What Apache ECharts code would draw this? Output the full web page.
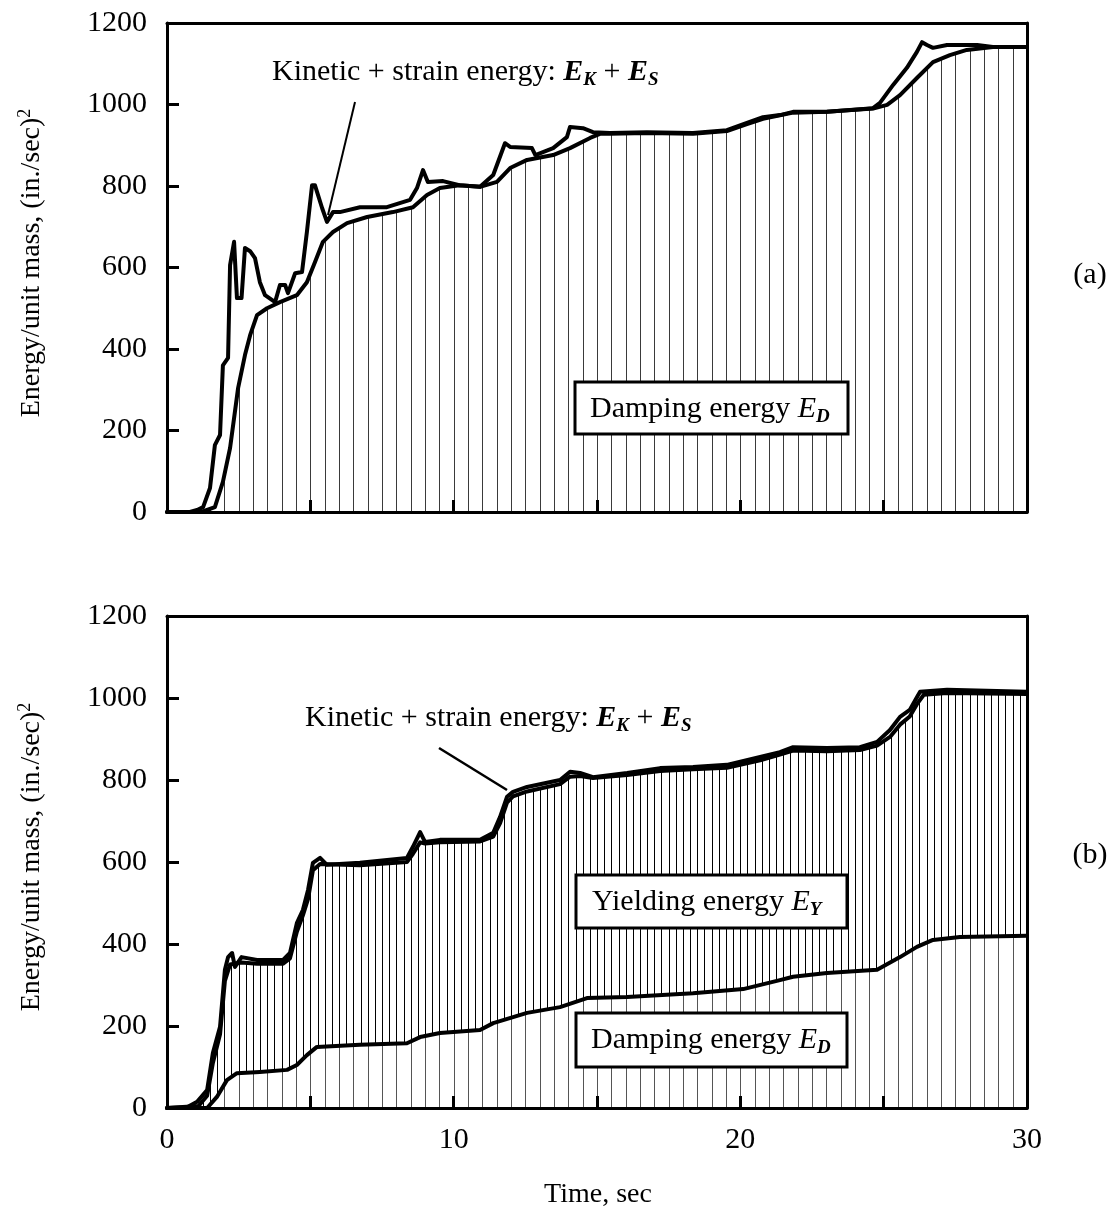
<!DOCTYPE html>
<html><head><meta charset="utf-8">
<script src="https://cdn.jsdelivr.net/npm/echarts@6/dist/echarts.min.js"></script>
<style>html,body{margin:0;padding:0;background:#fff}#c{width:1112px;height:1209px}</style>
</head><body><div id="c"></div>
<script>
// ---------- data ----------
// Panel (a): elastic system
const tA_EI = [0,0.8,1.05,1.26,1.5,1.67,1.85,1.95,2.13,2.2,2.34,2.44,2.6,2.72,2.9,3.07,3.24,3.42,3.77,3.94,4.12,4.22,4.47,4.71,4.88,5.06,5.16,5.41,5.58,5.79,6.03,6.73,7.67,8.48,8.72,8.93,9.1,9.63,10.2,10.92,11.38,11.79,11.97,12.73,12.85,13.47,13.95,14.06,14.51,14.86,15.45,16.74,18.35,19.53,20.23,20.79,21.38,21.84,23.02,24.63,24.87,25.33,25.81,26.16,26.34,26.51,26.72,27.21,27.66,28.26,28.81,30];
const eA_EI = [0,0,5,12,59,164,189,360,378,606,663,525,525,648,640,623,564,532,515,557,557,537,586,589,687,802,802,746,712,736,736,748,748,766,795,839,810,812,802,798,827,905,896,893,876,893,920,945,942,932,930,932,930,937,955,969,974,982,982,991,1004,1048,1090,1129,1153,1146,1139,1146,1146,1146,1141,1141];
const tA_ED = [0,1.2,1.67,1.95,2.2,2.48,2.72,2.9,3.14,3.49,3.94,4.53,4.88,5.16,5.44,5.79,6.28,6.98,7.88,8.58,9.07,9.52,10.2,10.92,11.51,11.97,12.56,13.47,14.06,14.76,15.1,15.45,16.74,18.35,19.53,20.23,20.79,21.84,23.02,24.63,25.12,25.57,26.16,26.72,27.31,27.9,28.81,30];
const eA_ED = [0,0,12,74,157,304,385,434,483,500,515,532,564,613,663,687,709,724,736,748,778,795,802,798,810,844,864,876,893,918,928,928,930,928,935,952,965,980,982,990,999,1023,1065,1104,1121,1134,1141,1141];

// Panel (b): inelastic system
const tB_EI = [0,0.7,1.05,1.4,1.6,1.85,2.02,2.13,2.27,2.37,2.6,3.14,4.05,4.29,4.53,4.74,4.92,5.09,5.34,5.58,6.73,8.37,8.58,8.83,9.0,9.52,10.92,11.38,11.62,11.86,12.07,12.56,13.71,14.06,14.41,14.86,16.05,17.2,18.35,19.53,20.69,21.38,21.84,23.02,24.17,24.77,25.22,25.57,25.91,26.16,26.27,27.21,30];
const eB_EI = [0,2,15,44,134,198,337,368,378,344,368,361,361,378,451,483,532,598,610,593,598,610,637,673,649,654,654,671,710,759,771,783,800,820,817,807,817,829,832,837,856,868,880,878,880,893,922,954,971,1002,1015,1020,1015];
const tB_EDY = [0,1.1,1.4,1.6,1.85,2.02,2.2,2.6,3.14,4.05,4.29,4.53,4.74,4.92,5.09,5.34,6.73,8.37,8.58,8.83,9.0,9.52,10.92,11.38,11.62,11.86,12.07,12.56,13.71,14.06,14.41,14.86,16.05,17.2,18.35,19.53,20.69,21.38,21.84,23.02,24.17,24.77,25.22,25.57,25.91,26.16,26.4,27.21,30];
const eB_EDY = [0,5,30,110,180,310,350,355,352,352,365,430,470,510,580,595,592,600,620,648,645,648,650,662,695,745,760,772,790,808,810,805,812,822,826,830,848,862,872,870,873,884,905,935,955,985,1008,1012,1010];
const tB_ED = [0,1.4,1.74,2.09,2.44,3.24,4.19,4.53,4.88,5.23,6.73,8.37,8.83,9.52,10.92,11.38,12.56,13.71,14.65,16.05,18.35,20.1,21.38,21.84,23.02,24.77,25.57,26.16,26.72,27.66,30];
const eB_ED = [0,0,27,68,85,88,93,105,129,149,154,158,173,183,190,207,232,246,268,271,280,290,312,320,329,337,368,393,410,417,420];

const yTicks = [0,200,400,600,800,1000,1200];
const xTicks = [0,5,10,15,20,25,30];

// ---------- layout ----------
const W = 1112, H = 1209;
const L = 167, R = 1027;
const gridA = {top: 23, height: 489};
const gridB = {top: 616, height: 492};
const FONT = 'Liberation Serif';
const FS = 30;

function pairs(t, e){ return t.map((v,i)=>[v, e[i]]); }

// vertical hatch texture, one line per `sec` seconds of the time axis
function hatch(sec, color, bg){
  const c = document.createElement('canvas');
  c.width = W; c.height = 4;
  const g = c.getContext('2d');
  if (bg){ g.fillStyle = bg; g.fillRect(0,0,W,4); }
  g.fillStyle = color;
  const step = (R - L) / 30 * sec;
  for (let x = L; x <= R + 1; x += step) g.fillRect(Math.round(x), 0, 1, 4);
  return {image: c, repeat: 'repeat'};
}

const chart = echarts.init(document.getElementById('c'), null, {renderer:'canvas', width:W, height:H});

function xAx(gi, bottomLabels){
  return [{
    gridIndex: gi, type:'value', min: xTicks[0], max: xTicks[xTicks.length-1], interval: 5, position:'bottom', z: 10,
    axisLine:{show:true, onZero:false, lineStyle:{color:'#000', width:3}},
    axisTick:{show:true, inside:true, length:12, lineStyle:{color:'#000', width:3}},
    axisLabel:{show: bottomLabels, margin: 17, fontFamily: FONT, fontSize: FS, color:'#000',
      formatter: v => (v % 10 === 0 ? String(v) : '')},
    splitLine:{show:false}
  },{
    gridIndex: gi, type:'value', min: 0, max: 30, position:'top', z: 10,
    axisLine:{show:true, onZero:false, lineStyle:{color:'#000', width:3}},
    axisTick:{show:false}, axisLabel:{show:false}, splitLine:{show:false}
  }];
}
function yAx(gi){
  return [{
    gridIndex: gi, type:'value', min: yTicks[0], max: yTicks[yTicks.length-1], interval: 200, position:'left', z: 10,
    axisLine:{show:true, onZero:false, lineStyle:{color:'#000', width:3}},
    axisTick:{show:true, inside:true, length:12, lineStyle:{color:'#000', width:3}},
    axisLabel:{show:true, margin: 20, fontFamily: FONT, fontSize: FS, color:'#000', formatter: v => String(v)},
    splitLine:{show:false}
  },{
    gridIndex: gi, type:'value', min: 0, max: 1200, position:'right', z: 10,
    axisLine:{show:true, onZero:false, lineStyle:{color:'#000', width:3}},
    axisTick:{show:false}, axisLabel:{show:false}, splitLine:{show:false}
  }];
}

function lineSeries(name, xi, yi, data, z, area){
  const s = {
    name, type:'line', xAxisIndex: xi, yAxisIndex: yi, data, z,
    showSymbol:false, symbol:'none', animation:false, silent:true,
    lineStyle:{color:'#000', width:4, cap:'round', join:'round'}
  };
  if (area) s.areaStyle = {color: area, opacity: 1, origin: 'start'};
  return s;
}

const mainText = {fontFamily: FONT, fontSize: FS, color:'#000'};
const italE = {fontFamily: FONT, fontSize: FS, fontStyle:'italic', fontWeight:'bold', color:'#000'};
const subS = {fontFamily: FONT, fontSize: 19, fontStyle:'italic', fontWeight:'bold', color:'#000', verticalAlign:'bottom', lineHeight: 20};
const rich = {
  t: Object.assign({lineHeight: 36}, mainText),
  e: Object.assign({lineHeight: 36}, italE),
  i: {fontFamily: FONT, fontSize: FS, fontStyle:'italic', color:'#000', lineHeight: 36},
  s: subS
};
const richTitle = {
  t: {fontFamily: FONT, fontSize: 28, color:'#000', lineHeight: 32},
  sup: {fontFamily: FONT, fontSize: 18, color:'#000', verticalAlign:'top', lineHeight: 18}
};

function txt(x, y, text, r, extra){
  return Object.assign({type:'text', x, y, z: 100, silent:true,
    style: {text, rich: r || rich, fontFamily: FONT, fontSize: FS, fill:'#000', align:'left', verticalAlign:'middle'}}, extra || {});
}
function ctxt(x, y, text, size){
  return {type:'text', x, y, z: 100, silent:true,
    style: {text, fontFamily: FONT, fontSize: size, fill:'#000', align:'center', verticalAlign:'middle'}};
}
function box(x, y, w, h){
  return {type:'rect', z: 90, silent:true, shape:{x, y, width:w, height:h},
    style:{fill:'#fff', stroke:'#000', lineWidth:3}};
}

const ke = '{t|Kinetic + strain energy: }{e|E}{s|K}{t| + }{e|E}{s|S}';
const ytitle = '{t|Energy/unit mass, (in./sec)}{sup|2}';

function rotTitle(x, y){
  return {type:'text', x, y, z:100, silent:true, rotation: Math.PI/2,
    style:{text: ytitle, rich: richTitle, align:'center', verticalAlign:'middle'}};
}

const option = {
  backgroundColor:'#fff',
  animation:false,
  grid:[
    {left: L, right: W - R, top: gridA.top, height: gridA.height, containLabel:false},
    {left: L, right: W - R, top: gridB.top, height: gridB.height, containLabel:false}
  ],
  xAxis: [...xAx(0,false), ...xAx(1,true)],
  yAxis: [...yAx(0), ...yAx(1)],
  series: [
    lineSeries('E_D (a)', 0, 0, pairs(tA_ED, eA_ED), 3, hatch(0.5, '#3a3a3a', null)),
    lineSeries('E_I (a)', 0, 0, pairs(tA_EI, eA_EI), 4),
    lineSeries('E_D + E_Y (b)', 2, 2, pairs(tB_EDY, eB_EDY), 3, hatch(0.25, '#000', '#fff')),
    lineSeries('E_D (b)', 2, 2, pairs(tB_ED, eB_ED), 4, hatch(0.5, '#555', '#fff')),
    lineSeries('E_I (b)', 2, 2, pairs(tB_EI, eB_EI), 5)
  ],
  graphic: [
    rotTitle(32, 263),
    rotTitle(32, 857),
    ctxt(598, 1195, 'Time, sec', 28),
    ctxt(1090, 275, '(a)', FS),
    ctxt(1090, 855, '(b)', FS),
    // annotations
    txt(272, 72, ke),
    {type:'line', z: 100, silent:true, shape:{x1:355, y1:102, x2:328, y2:215}, style:{stroke:'#000', lineWidth:2}},
    txt(305, 718, ke),
    {type:'line', z: 100, silent:true, shape:{x1:439, y1:748, x2:507, y2:790}, style:{stroke:'#000', lineWidth:2.5}},
    // labelled boxes
    box(575, 382, 273, 52),
    txt(590, 409, '{t|Damping energy }{i|E}{s|D}'),
    box(576, 875, 271, 53),
    txt(592, 902, '{t|Yielding energy }{i|E}{s|Y}'),
    box(576, 1013, 271, 54),
    txt(591, 1040, '{t|Damping energy }{i|E}{s|D}')
  ]
};
chart.setOption(option);
</script></body></html>
